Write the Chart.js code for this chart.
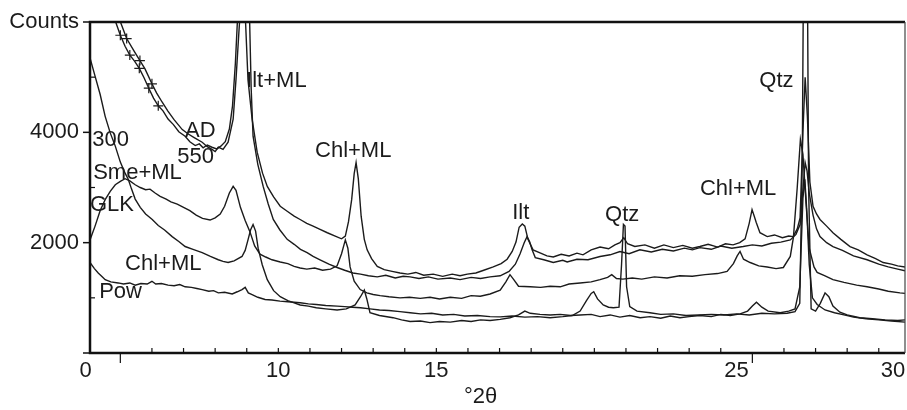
<!DOCTYPE html>
<html>
<head>
<meta charset="utf-8">
<script src="https://cdn.jsdelivr.net/npm/chart.js@4.4.1/dist/chart.umd.min.js"></script>
<style>
  html, body { margin: 0; padding: 0; background: #fff; }
  #wrap { width: 907px; height: 410px; }
</style>
</head>
<body>
<div id="wrap"><canvas id="xrd"></canvas></div>
<script>
"use strict";

// scans: [°2θ, counts]
const adScan = [
  [4.04, 7900],[4.4, 6950],[4.7, 6300],[4.84, 6020],[5.0, 5760],[5.15, 5560],[5.3, 5400],[5.45, 5290],
  [5.6, 5160],[5.75, 4990],[5.9, 4800],[6.05, 4620],[6.2, 4480],[6.35, 4390],[6.51, 4240],[6.68, 4140],
  [6.85, 4010],[7.05, 3930],[7.2, 3830],[7.37, 3760],[7.5, 3790],[7.62, 3720],[7.75, 3770],[7.9, 3730],
  [8.05, 3700],[8.18, 3750],[8.32, 3830],[8.45, 4060],[8.55, 4480],[8.64, 5250],[8.72, 6200],[8.8, 8000],
  [8.87, 8200],[8.94, 6300],[9.04, 4950],[9.17, 4240],[9.33, 3640],[9.5, 3260],[9.65, 3020],[9.85, 2830],
  [10.06, 2660],[10.28, 2570],[10.5, 2480],[10.69, 2420],[10.9, 2350],[11.1, 2300],[11.32, 2240],[11.55, 2180],
  [11.8, 2120],[12.0, 2070],[12.12, 2120],[12.22, 2380],[12.32, 2780],[12.4, 3250],[12.46, 3450],[12.53, 3160],
  [12.62, 2480],[12.72, 2060],[12.81, 1870],[12.95, 1710],[13.13, 1570],[13.35, 1510],[13.6, 1480],[13.85, 1450],
  [14.1, 1430],[14.35, 1460],[14.6, 1410],[14.9, 1430],[15.2, 1390],[15.5, 1430],[15.75, 1400],[15.98, 1430],
  [16.25, 1450],[16.5, 1500],[16.8, 1560],[17.05, 1620],[17.24, 1700],[17.4, 1840],[17.52, 2010],[17.62, 2280],
  [17.72, 2340],[17.8, 2300],[17.9, 2060],[18.06, 1870],[18.3, 1810],[18.5, 1760],[18.7, 1740],[18.95, 1790],
  [19.2, 1760],[19.45, 1810],[19.64, 1780],[19.9, 1870],[20.18, 1920],[20.45, 1890],[20.65, 1960],[20.81, 2000],
  [20.93, 2090],[21.05, 1980],[21.28, 1930],[21.6, 1960],[21.9, 1900],[22.2, 1960],[22.5, 1910],[22.8, 1950],
  [23.1, 1900],[23.34, 1930],[23.6, 1970],[23.9, 1920],[24.15, 1980],[24.39, 1960],[24.6, 2000],[24.77, 2070],
  [24.9, 2350],[24.99, 2600],[25.06, 2480],[25.12, 2370],[25.24, 2180],[25.47, 2110],[25.7, 2140],[25.95, 2090],
  [26.15, 2120],[26.29, 2110],[26.42, 2250],[26.51, 2450],[26.6, 4000],[26.67, 5000],[26.74, 4300],[26.82, 3100],
  [26.92, 2660],[27.03, 2520],[27.14, 2420],[27.35, 2300],[27.55, 2180],[27.8, 2060],[28.09, 1930],[28.35, 1870],
  [28.63, 1780],[28.9, 1710],[29.14, 1640],[29.4, 1610],[29.6, 1580],[29.83, 1560]
];

const scan550 = [
  [4.04, 8600],[4.4, 7500],[4.7, 6600],[4.99, 6020],[5.2, 5700],[5.45, 5460],[5.62, 5300],[5.78, 5150],
  [6.0, 4880],[6.15, 4710],[6.32, 4550],[6.5, 4390],[6.7, 4230],[6.96, 4050],[7.15, 3970],[7.35, 3900],
  [7.59, 3820],[7.75, 3740],[7.9, 3690],[8.0, 3650],[8.1, 3730],[8.25, 3690],[8.41, 3820],[8.57, 4240],
  [8.66, 4960],[8.75, 5800],[8.84, 6600],[8.93, 8800],[9.01, 8500],[9.08, 6300],[9.14, 4800],[9.2, 3930],
  [9.35, 3420],[9.52, 3020],[9.68, 2700],[9.84, 2420],[10.05, 2230],[10.28, 2060],[10.5, 1970],[10.7, 1880],
  [10.91, 1820],[11.1, 1750],[11.32, 1690],[11.6, 1610],[11.86, 1550],[12.1, 1500],[12.36, 1450],[12.6, 1430],
  [12.85, 1400],[13.13, 1380],[13.4, 1410],[13.7, 1360],[13.95, 1390],[14.17, 1380],[14.45, 1350],[14.75, 1380],
  [15.05, 1340],[15.44, 1360],[15.75, 1330],[16.1, 1370],[16.4, 1350],[16.7, 1380],[17.02, 1400],[17.3, 1480],
  [17.5, 1610],[17.65, 1800],[17.78, 2000],[17.87, 2110],[17.95, 2020],[18.03, 1870],[18.13, 1730],[18.4, 1690],
  [18.7, 1640],[19.0, 1680],[19.14, 1650],[19.45, 1700],[19.8, 1690],[20.18, 1750],[20.5, 1780],[20.81, 1840],
  [21.1, 1800],[21.44, 1870],[21.8, 1830],[22.15, 1880],[22.5, 1850],[22.85, 1900],[23.1, 1870],[23.34, 1910],
  [23.7, 1880],[24.0, 1940],[24.35, 1900],[24.71, 1930],[25.0, 1960],[25.3, 1940],[25.6, 1990],[25.9, 2010],
  [26.2, 2050],[26.38, 2150],[26.51, 2330],[26.6, 2960],[26.67, 3450],[26.73, 3300],[26.8, 2900],[26.92, 2500],
  [27.03, 2250],[27.14, 2110],[27.35, 2000],[27.55, 1930],[27.85, 1860],[28.2, 1760],[28.63, 1690],[29.0, 1610],
  [29.3, 1560],[29.6, 1520],[29.83, 1490]
];

const glkScan = [
  [4.04, 2050],[4.2, 2300],[4.36, 2580],[4.52, 2780],[4.68, 2930],[4.84, 3050],[5.0, 3110],[5.15, 3160],
  [5.3, 3120],[5.47, 3050],[5.63, 3000],[5.8, 2960],[5.94, 2970],[6.1, 2900],[6.26, 2840],[6.45, 2790],
  [6.6, 2740],[6.8, 2700],[7.0, 2640],[7.2, 2580],[7.4, 2500],[7.6, 2440],[7.84, 2410],[8.0, 2450],
  [8.16, 2520],[8.3, 2660],[8.45, 2900],[8.57, 3020],[8.66, 2950],[8.8, 2640],[8.95, 2400],[9.1, 2200],
  [9.25, 1940],[9.42, 1790],[9.6, 1740],[9.8, 1690],[10.06, 1650],[10.3, 1620],[10.5, 1570],[10.69, 1540],
  [10.9, 1520],[11.15, 1540],[11.4, 1500],[11.65, 1520],[11.86, 1580],[12.0, 1800],[12.12, 2050],[12.2, 1900],
  [12.27, 1560],[12.4, 1300],[12.59, 1150],[12.8, 1090],[13.0, 1060],[13.22, 1040],[13.5, 1020],[13.85, 1000],
  [14.15, 1010],[14.49, 990],[14.8, 1010],[15.1, 980],[15.44, 1010],[15.8, 990],[16.1, 1040],[16.39, 1030],
  [16.7, 1070],[17.02, 1140],[17.2, 1290],[17.33, 1420],[17.45, 1330],[17.6, 1210],[17.97, 1200],[18.3, 1190],
  [18.6, 1210],[18.92, 1200],[19.2, 1250],[19.55, 1270],[19.9, 1290],[20.18, 1330],[20.42, 1370],[20.55, 1420],
  [20.7, 1350],[20.9, 1340],[21.2, 1360],[21.5, 1340],[21.9, 1380],[22.3, 1360],[22.7, 1400],[23.1, 1390],
  [23.5, 1420],[23.9, 1440],[24.2, 1480],[24.4, 1620],[24.52, 1760],[24.61, 1840],[24.72, 1700],[24.93, 1640],
  [25.2, 1580],[25.47, 1560],[25.75, 1530],[25.98, 1550],[26.2, 1750],[26.3, 2100],[26.42, 3000],[26.52, 3870],
  [26.6, 3600],[26.7, 2700],[26.8, 1900],[26.95, 1560],[27.05, 1460],[27.3, 1400],[27.55, 1330],[27.9, 1280],
  [28.3, 1230],[28.63, 1200],[29.0, 1160],[29.3, 1120],[29.67, 1090],[29.83, 1080]
];

const scan300 = [
  [4.04, 5350],[4.2, 5020],[4.36, 4690],[4.52, 4290],[4.68, 3990],[4.84, 3750],[5.0, 3460],[5.15, 3260],
  [5.25, 3150],[5.35, 2980],[5.47, 2790],[5.63, 2640],[5.8, 2520],[6.01, 2420],[6.2, 2310],[6.4, 2230],
  [6.64, 2110],[6.85, 2020],[7.05, 1930],[7.3, 1880],[7.59, 1820],[7.85, 1750],[8.1, 1690],[8.25, 1660],
  [8.41, 1640],[8.6, 1670],[8.85, 1750],[8.95, 1860],[9.04, 2050],[9.12, 2230],[9.2, 2330],[9.28, 2210],
  [9.36, 1900],[9.49, 1600],[9.65, 1330],[9.85, 1130],[10.06, 1020],[10.3, 950],[10.5, 910],[10.69, 870],
  [10.95, 850],[11.2, 820],[11.5, 800],[11.86, 780],[12.15, 800],[12.43, 870],[12.6, 1020],[12.72, 1140],
  [12.8, 980],[12.9, 730],[13.2, 680],[13.63, 640],[13.9, 600],[14.17, 570],[14.5, 580],[14.8, 550],
  [15.1, 570],[15.44, 560],[15.8, 590],[16.1, 570],[16.4, 600],[16.7, 590],[17.02, 610],[17.33, 640],
  [17.6, 690],[17.8, 760],[17.97, 720],[18.28, 700],[18.6, 690],[18.92, 700],[19.25, 680],[19.55, 690],
  [19.9, 700],[20.18, 660],[20.5, 690],[20.81, 650],[21.12, 680],[21.45, 640],[21.76, 660],[22.1, 630],
  [22.4, 670],[22.71, 640],[23.0, 660],[23.34, 680],[23.7, 660],[24.0, 700],[24.3, 680],[24.61, 710],
  [24.85, 760],[25.0, 850],[25.13, 920],[25.3, 830],[25.5, 760],[25.88, 730],[26.15, 760],[26.35, 800],
  [26.5, 1200],[26.6, 2800],[26.66, 3150],[26.72, 2600],[26.8, 1600],[26.9, 1000],[27.05, 880],[27.3, 780],
  [27.6, 730],[27.9, 690],[28.2, 650],[28.6, 620],[29.0, 600],[29.4, 580],[29.83, 560]
];

const powScan = [
  [4.04, 1640],[4.18, 1530],[4.3, 1450],[4.45, 1370],[4.52, 1330],[4.7, 1290],[4.93, 1270],[5.1, 1250],
  [5.3, 1270],[5.47, 1230],[5.65, 1260],[5.85, 1250],[6.0, 1300],[6.12, 1250],[6.3, 1260],[6.51, 1230],
  [6.7, 1220],[6.88, 1240],[7.05, 1200],[7.25, 1190],[7.42, 1170],[7.59, 1150],[7.8, 1120],[7.95, 1130],
  [8.1, 1090],[8.3, 1100],[8.54, 1070],[8.7, 1110],[8.85, 1150],[8.95, 1190],[9.05, 1090],[9.17, 1060],
  [9.35, 1010],[9.58, 970],[9.8, 960],[10.05, 940],[10.3, 930],[10.5, 920],[10.69, 910],[10.95, 890],
  [11.2, 880],[11.5, 860],[11.86, 850],[12.1, 840],[12.35, 830],[12.6, 820],[12.9, 800],[13.2, 780],
  [13.5, 770],[13.85, 750],[14.17, 730],[14.5, 710],[14.85, 720],[15.2, 690],[15.55, 700],[15.9, 670],
  [16.3, 680],[16.7, 660],[17.02, 655],[17.4, 670],[17.8, 650],[18.2, 660],[18.6, 640],[19.0, 660],
  [19.3, 680],[19.55, 760],[19.75, 950],[19.9, 1080],[19.98, 1110],[20.1, 980],[20.28, 870],[20.45, 830],
  [20.6, 820],[20.78, 830],[20.86, 1600],[20.92, 2330],[20.97, 2300],[21.02, 1200],[21.12, 840],[21.35, 760],
  [21.76, 730],[22.1, 700],[22.5, 710],[22.9, 680],[23.3, 690],[23.7, 700],[24.1, 690],[24.5, 710],
  [24.9, 690],[25.3, 720],[25.7, 710],[26.1, 720],[26.35, 750],[26.5, 900],[26.58, 3500],[26.64, 9000],
  [26.72, 9000],[26.78, 3000],[26.86, 800],[27.0, 760],[27.15, 900],[27.3, 1090],[27.42, 1020],[27.55, 850],
  [27.77, 740],[28.0, 690],[28.4, 640],[28.8, 620],[29.2, 600],[29.6, 590],[29.83, 600]
];

// axis ticks and their texts
const yTickValues = [0, 2000, 4000, 6000];
const yTickText = ["", "2000", "4000", "Counts"];
const yMinorTicks = [1000, 3000, 5000];
const xTickText = ["0", "10", "15", "25", "30"];
const xTickAt = [3.9, 10, 15, 24.5, 29.45];

// peak and sample labels, anchored in data units (left edge, middle)
const labelText = ["Ilt+ML", "Chl+ML", "Ilt", "Qtz", "Chl+ML", "Qtz", "AD", "550", "300", "Sme+ML", "GLK", "Chl+ML", "Pow"];
const labelAngle = [8.98, 11.16, 17.4, 20.34, 23.34, 25.22, 7.05, 6.8, 4.11, 4.14, 4.04, 5.15, 4.33];
const labelCounts = [4927, 3654, 2545, 2509, 2981, 4927, 4018, 3563, 3854, 3272, 2690, 1618, 1109];

const FONT = '22px "Liberation Sans", Arial, sans-serif';
const INK = "#1b1b1b";

function toPoints(scan) {
  return scan.map(p => ({ x: p[0], y: p[1] }));
}

function trace(scan) {
  return {
    data: toPoints(scan),
    borderColor: INK,
    borderWidth: 1.4,
    pointRadius: 0,
    tension: 0,
    fill: false
  };
}

// the air-dried scans carry "+" marks on their upper flank
function crossMarks(c) {
  return c.raw && c.raw.x > 4.9 && c.raw.x < 6.3 && c.dataIndex % 2 === 0 ? 5 : 0;
}

const adTrace = trace(adScan);
const trace550 = trace(scan550);
for (const t of [adTrace, trace550]) {
  t.pointStyle = "cross";
  t.pointBorderColor = INK;
  t.pointBorderWidth = 1.2;
  t.pointRadius = crossMarks;
}

// frame, ticks and all the text
const xrdFrame = {
  id: "xrdFrame",
  afterDraw(chart) {
    const ctx = chart.ctx;
    const a = chart.chartArea;
    const x = chart.scales.x;
    const y = chart.scales.y;
    ctx.save();

    ctx.strokeStyle = "#111";
    ctx.lineWidth = 2.5;
    ctx.beginPath();
    ctx.moveTo(a.right, a.top);
    ctx.lineTo(a.left, a.top);
    ctx.lineTo(a.left, a.bottom);
    ctx.lineTo(a.right, a.bottom);
    ctx.stroke();

    ctx.lineWidth = 1.2;
    ctx.strokeStyle = "#444";
    ctx.beginPath();
    ctx.moveTo(a.right, a.top);
    ctx.lineTo(a.right, a.bottom);
    ctx.stroke();

    // x ticks: small ones inside every degree, longer ones outside at 5 and 25
    ctx.strokeStyle = "#111";
    ctx.lineWidth = 1.2;
    for (let d = 5; d <= 29; d++) {
      const px = x.getPixelForValue(d);
      ctx.beginPath();
      if (d === 5 || d === 25) {
        ctx.moveTo(px, a.bottom);
        ctx.lineTo(px, a.bottom + 10);
      } else {
        ctx.moveTo(px, a.bottom);
        ctx.lineTo(px, a.bottom - 5);
      }
      ctx.stroke();
    }

    // y ticks, major outside, minor inside
    ctx.lineWidth = 1.5;
    for (let i = 0; i < yTickValues.length; i++) {
      const py = y.getPixelForValue(yTickValues[i]);
      ctx.beginPath();
      ctx.moveTo(a.left - 7, py);
      ctx.lineTo(a.left, py);
      ctx.stroke();
    }
    ctx.lineWidth = 1.2;
    for (const v of yMinorTicks) {
      const py = y.getPixelForValue(v);
      ctx.beginPath();
      ctx.moveTo(a.left, py);
      ctx.lineTo(a.left + 5, py);
      ctx.stroke();
    }

    ctx.fillStyle = INK;
    ctx.font = FONT;
    ctx.textBaseline = "middle";

    ctx.textAlign = "right";
    for (let i = 0; i < yTickValues.length; i++) {
      ctx.fillText(yTickText[i], a.left - 11, y.getPixelForValue(yTickValues[i]));
    }

    ctx.textAlign = "center";
    for (let i = 0; i < xTickText.length; i++) {
      ctx.fillText(xTickText[i], x.getPixelForValue(xTickAt[i]), a.bottom + 18);
    }
    ctx.fillText("°2θ", x.getPixelForValue(16.4), a.bottom + 44);

    ctx.textAlign = "left";
    for (let i = 0; i < labelText.length; i++) {
      ctx.fillText(labelText[i], x.getPixelForValue(labelAngle[i]), y.getPixelForValue(labelCounts[i]));
    }
    ctx.restore();
  }
};

new Chart(document.getElementById("xrd"), {
  type: "line",
  data: {
    datasets: [adTrace, trace550, trace(scan300), trace(glkScan), trace(powScan)]
  },
  options: {
    responsive: true,
    maintainAspectRatio: false,
    animation: false,
    layout: { padding: { left: 90, top: 22, right: 2, bottom: 57 } },
    plugins: { legend: { display: false }, tooltip: { enabled: false } },
    scales: {
      x: { type: "linear", min: 4.04, max: 29.83, display: false },
      y: { min: 0, max: 6000, display: false }
    }
  },
  plugins: [xrdFrame]
});
</script>
</body>
</html>
